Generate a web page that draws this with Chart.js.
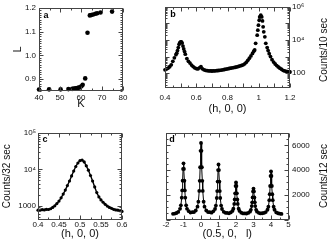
<!DOCTYPE html>
<html>
<head>
<meta charset="utf-8">
<script src="https://cdn.jsdelivr.net/npm/chart.js@4.4.1/dist/chart.umd.min.js"></script>
<style>
  body { margin: 0; background: #fff; }
  #wrap { position: relative; width: 332px; height: 241px; }
  canvas { position: absolute; left: 0; top: 0; }
</style>
</head>
<body>
<div id="wrap">
  <canvas id="chartA" width="332" height="241"></canvas>
  <canvas id="chartB" width="332" height="241"></canvas>
  <canvas id="chartC" width="332" height="241"></canvas>
  <canvas id="chartD" width="332" height="241"></canvas>
</div>
<script>
// panel a : L vs K
var aK = [40, 44.8, 50.3, 54, 55.8, 56.6, 57.4, 58.2, 58.9, 59.6, 60.2, 60.8, 62, 63.1, 64.2, 64.9, 65.8, 66.9, 67.7, 69.3, 74.8];
var aL = [0.856, 0.857, 0.857, 0.858, 0.859, 0.86, 0.861, 0.862, 0.864, 0.866, 0.87, 0.876, 0.903, 1.095, 1.168, 1.17, 1.172, 1.175, 1.177, 1.18, 1.184];
var aXTicks = [40, 50, 60, 70, 80];
var aYTicks = [0.9, 1, 1.1, 1.2];

// panel b : (h, 0, 0) scan, counts/10 sec
var bH = [0.40, 0.41, 0.42, 0.43, 0.44, 0.45, 0.46, 0.47, 0.475, 0.48, 0.485, 0.49, 0.495, 0.50, 0.505, 0.51, 0.515, 0.52, 0.525, 0.53,
  0.54, 0.55, 0.56, 0.57, 0.58, 0.59, 0.60, 0.61, 0.62, 0.63, 0.64, 0.65, 0.66, 0.67, 0.68, 0.69, 0.70,
  0.71, 0.72, 0.73, 0.74, 0.75, 0.76, 0.77, 0.78, 0.79, 0.80, 0.81, 0.82, 0.83, 0.84, 0.85, 0.86, 0.87, 0.88, 0.89, 0.90,
  0.91, 0.92, 0.93, 0.94, 0.95, 0.96, 0.968, 0.974, 0.98, 0.99, 0.994, 0.998, 1.003, 1.006, 1.013, 1.019, 1.024, 1.028, 1.032, 1.039,
  1.045, 1.054, 1.06, 1.067, 1.075, 1.085, 1.095, 1.105, 1.115, 1.125, 1.135, 1.145, 1.155, 1.165, 1.175, 1.185, 1.195, 1.2];
var bCounts = [160, 180, 205, 245, 320, 520, 850, 1300, 1600, 2300, 3500, 5500, 7000, 7600, 7800, 6500, 4300, 2900, 2000, 1400,
  760, 520, 410, 310, 250, 210, 190, 180, 210, 250, 185, 160, 150, 143, 139, 137, 136,
  137, 139, 142, 146, 150, 155, 160, 167, 175, 183, 192, 200, 210, 218, 228, 240, 255, 275, 295, 320,
  370, 450, 600, 800, 1100, 1550, 2100, 2500, 6300, 19500, 39000, 78000, 155000, 245000, 310000, 245000, 141000, 62000, 31000, 15500,
  6300, 3500, 2300, 1500, 1000, 650, 470, 360, 290, 240, 200, 175, 150, 138, 130, 124, 120, 118];
var bXTicks = [0.4, 0.6, 0.8, 1, 1.2];
var bXLabels = ['0.4', '0.6', '0.8', '1', '1.2'];
var bYTicks = [100, 10000, 1000000];
var bYLabels = ['100', '10\u2074', '10\u2076'];

// panel c : (h, 0, 0) scan, counts/32 sec
var cH = [0.400, 0.405, 0.410, 0.415, 0.420, 0.425, 0.430, 0.435, 0.440, 0.445, 0.450, 0.455, 0.460, 0.465, 0.470, 0.475, 0.480,
  0.485, 0.490, 0.495, 0.500, 0.505, 0.510, 0.515, 0.520, 0.525, 0.530, 0.535, 0.540, 0.545, 0.550, 0.555, 0.560, 0.565,
  0.570, 0.575, 0.580, 0.585, 0.590, 0.595, 0.600];
var cCounts = [760, 760, 780, 770, 800, 790, 830, 900, 1000, 1150, 1350, 1650, 2100, 2700, 3600, 4800, 6600,
  9000, 12000, 15000, 17500, 18000, 16000, 12500, 9500, 6800, 4800, 3300, 2300, 1750, 1450, 1250, 1100, 980,
  900, 850, 800, 770, 760, 730, 700];
var cXTicks = [0.4, 0.45, 0.5, 0.55, 0.6];
var cXLabels = ['0.4', '0.45', '0.5', '0.55', '0.6'];
var cYTicks = [1000, 10000, 100000];
var cYLabels = ['1000', '10\u2074', '10\u2075'];

// panel d : (0.5, 0, l) scan, counts/12 sec
var dL = [-1.6, -1.5, -1.4, -1.3, -1.2, -1.15, -1.1, -1.075, -1.05, -1.025, -1, -0.975, -0.95, -0.925, -0.9, -0.85, -0.8,
  -0.7, -0.6, -0.5, -0.4, -0.3, -0.2, -0.15, -0.1, -0.075, -0.05, -0.025, 0, 0.025, 0.05, 0.075, 0.1, 0.15, 0.2,
  0.3, 0.4, 0.5, 0.6, 0.7, 0.8, 0.85, 0.9, 0.925, 0.95, 0.975, 1, 1.025, 1.05, 1.075, 1.1, 1.15, 1.2,
  1.3, 1.4, 1.5, 1.6, 1.7, 1.8, 1.85, 1.9, 1.925, 1.95, 1.975, 2, 2.025, 2.05, 2.075, 2.1, 2.15, 2.2,
  2.3, 2.4, 2.5, 2.6, 2.7, 2.8, 2.85, 2.9, 2.925, 2.95, 2.975, 3, 3.025, 3.05, 3.075, 3.1, 3.15, 3.2,
  3.3, 3.4, 3.5, 3.6, 3.7, 3.8, 3.85, 3.9, 3.925, 3.95, 3.975, 4, 4.025, 4.05, 4.075, 4.1, 4.15, 4.2,
  4.3, 4.4, 4.5, 4.6];
var dCounts = [460, 480, 525, 610, 860, 1150, 1770, 2350, 3140, 4090, 4550, 4090, 3140, 2350, 1770, 1150, 860,
  670, 560, 590, 600, 730, 1040, 1440, 2310, 3130, 4230, 5560, 6200, 5560, 4230, 3130, 2310, 1440, 1040,
  730, 600, 590, 550, 660, 850, 1130, 1740, 2300, 3070, 4000, 4450, 4000, 3070, 2300, 1740, 1130, 850,
  625, 540, 530, 500, 570, 690, 870, 1260, 1620, 2120, 2710, 3000, 2710, 2120, 1620, 1260, 870, 690,
  550, 495, 490, 485, 530, 630, 780, 1090, 1390, 1790, 2270, 2500, 2270, 1790, 1390, 1090, 780, 630,
  540, 490, 505, 530, 600, 790, 1030, 1560, 2050, 2710, 3520, 3900, 3520, 2710, 2050, 1560, 1030, 790,
  575, 505, 470, 450];
var dXTicks = [-2, -1, 0, 1, 2, 3, 4, 5];
var dYTicks = [2000, 4000, 6000];

Chart.defaults.font.family = "'Liberation Sans', Arial, sans-serif";
Chart.defaults.color = '#111';

function toPoints(xs, ys) {
  return xs.map(function (x, i) { return { x: x, y: ys[i] }; });
}

// inward tick marks for the frame
function linTicks(min, max, major, minor) {
  var out = [];
  var n = Math.round((max - min) / minor);
  for (var i = 0; i <= n; i++) {
    var v = +(min + i * minor).toFixed(6);
    var r = v / major;
    out.push([v, Math.abs(r - Math.round(r)) < 1e-6 ? 4 : 2]);
  }
  return out;
}
function logTicks(min, max) {
  var out = [];
  for (var d = Math.floor(Math.log10(min)); d <= Math.ceil(Math.log10(max)); d++) {
    for (var m = 1; m <= 9; m++) {
      var v = m * Math.pow(10, d);
      if (v >= min && v <= max) out.push([v, m === 1 ? 4 : 2]);
    }
  }
  return out;
}

var panelDeco = {
  id: 'panelDeco',
  afterDraw: function (chart, args, o) {
    var ctx = chart.ctx, a = chart.chartArea;
    var sx = chart.scales.x, sy = chart.scales.y;
    var l = Math.round(a.left) + 0.5, r = Math.round(a.right) - 0.5;
    var t = Math.round(a.top) + 0.5, b = Math.round(a.bottom) - 0.5;
    ctx.save();
    ctx.strokeStyle = '#444';
    ctx.lineWidth = 1;
    ctx.strokeRect(l, t, r - l, b - t);
    ctx.beginPath();
    o.xTicks.forEach(function (tk) {
      var p = Math.round(sx.getPixelForValue(tk[0])) + 0.5;
      ctx.moveTo(p, b); ctx.lineTo(p, b - tk[1]);
      ctx.moveTo(p, t); ctx.lineTo(p, t + tk[1]);
    });
    o.yTicks.forEach(function (tk) {
      var p = Math.round(sy.getPixelForValue(tk[0])) + 0.5;
      ctx.moveTo(l, p); ctx.lineTo(l + tk[1], p);
      ctx.moveTo(r, p); ctx.lineTo(r - tk[1], p);
    });
    ctx.stroke();
    ctx.fillStyle = '#000';
    ctx.font = "bold 9px 'Liberation Sans', Arial, sans-serif";
    ctx.textAlign = 'center';
    ctx.textBaseline = 'middle';
    ctx.fillText(o.letter, o.letterPos[0], o.letterPos[1]);
    if (o.side) {
      ctx.translate(o.side.x, o.side.y);
      ctx.rotate(-Math.PI / 2);
      ctx.font = "10px 'Liberation Sans', Arial, sans-serif";
      ctx.fillStyle = '#111';
      ctx.fillText(o.side.text, 0, 0);
    }
    ctx.restore();
  }
};

function fixTicks(vals) {
  return function (s) { s.ticks = vals.map(function (v) { return { value: v }; }); };
}

function makePanel(id, cfg) {
  return new Chart(document.getElementById(id), {
    type: 'scatter',
    data: { datasets: [cfg.dataset] },
    options: {
      responsive: false,
      animation: false,
      devicePixelRatio: 1,
      layout: { padding: cfg.padding },
      plugins: { legend: { display: false }, tooltip: { enabled: false }, panelDeco: cfg.deco },
      scales: { x: cfg.x, y: cfg.y }
    },
    plugins: [panelDeco]
  });
}

function pointSet(data, radius, line) {
  return {
    data: data,
    pointRadius: radius,
    pointBackgroundColor: '#000',
    pointBorderWidth: 0,
    showLine: !!line,
    borderColor: '#000',
    borderWidth: line || 0,
    clip: false
  };
}

var tickFont = { size: 8 };
var noGrid = { display: false, drawTicks: false };

// a
makePanel('chartA', {
  dataset: pointSet(toPoints(aK, aL), 2.3, 0),
  padding: { left: 0, right: 209, top: 6, bottom: 130 },
  x: {
    type: 'linear', min: 40, max: 80, grid: noGrid, border: { display: false },
    afterBuildTicks: fixTicks(aXTicks), afterFit: function (s) { s.height = 20; },
    ticks: { font: tickFont, padding: 2, maxRotation: 0 },
    title: { display: true, text: 'K', font: { size: 11 }, padding: { top: 0, bottom: 0.4 } }
  },
  y: {
    type: 'linear', min: 0.85, max: 1.2, grid: noGrid, border: { display: false },
    afterBuildTicks: fixTicks(aYTicks), afterFit: function (s) { s.width = 39; },
    ticks: { font: tickFont, padding: 3 },
    title: { display: true, text: 'L', font: { size: 11 }, padding: { top: 11.4, bottom: 0 } }
  },
  deco: { xTicks: linTicks(40, 80, 10, 5), yTicks: linTicks(0.85, 1.2, 0.1, 0.01), letter: 'a', letterPos: [46, 16] }
});

// b
makePanel('chartB', {
  dataset: pointSet(toPoints(bH, bCounts), 1.9, 0),
  padding: { left: 165, right: 0, top: 6, bottom: 125.5 },
  x: {
    type: 'linear', min: 0.4, max: 1.2, grid: noGrid, border: { display: false },
    afterBuildTicks: fixTicks(bXTicks), afterFit: function (s) { s.height = 27; },
    ticks: { font: tickFont, padding: 4, maxRotation: 0, callback: function (v, i) { return bXLabels[i]; } },
    title: { display: true, text: '(h, 0, 0)', font: { size: 11 }, padding: { top: 0, bottom: 0.4 } }
  },
  y: {
    type: 'logarithmic', position: 'right', min: 12, max: 1000000, grid: noGrid, border: { display: false },
    afterBuildTicks: fixTicks(bYTicks), afterFit: function (s) { s.width = 42; },
    ticks: { font: tickFont, padding: 2, callback: function (v, i) { return bYLabels[i]; } }
  },
  deco: { xTicks: linTicks(0.4, 1.2, 0.1, 0.05), yTicks: logTicks(12, 1000000), letter: 'b', letterPos: [173, 15],
    side: { text: 'Counts/10 sec', x: 324, y: 50 } }
});

// c
makePanel('chartC', {
  dataset: pointSet(toPoints(cH, cCounts), 1.6, 1.4),
  padding: { left: 0, right: 210, top: 133, bottom: 0 },
  x: {
    type: 'linear', min: 0.4, max: 0.6, grid: noGrid, border: { display: false },
    afterBuildTicks: fixTicks(cXTicks), afterFit: function (s) { s.height = 21.5; },
    ticks: { font: tickFont, padding: 0, maxRotation: 0, callback: function (v, i) { return cXLabels[i]; } },
    title: { display: true, text: '(h, 0, 0)', font: { size: 11 }, padding: { top: 0, bottom: 0.9 } }
  },
  y: {
    type: 'logarithmic', min: 420, max: 100000, grid: noGrid, border: { display: false },
    afterBuildTicks: fixTicks(cYTicks), afterFit: function (s) { s.width = 38; },
    ticks: { font: tickFont, padding: 2, callback: function (v, i) { return cYLabels[i]; } },
    title: { display: true, text: 'Counts/32 sec', font: { size: 10 }, padding: { top: 1.5, bottom: 0 } }
  },
  deco: { xTicks: linTicks(0.4, 0.6, 0.05, 0.025), yTicks: logTicks(420, 100000), letter: 'c', letterPos: [45, 140] }
});

// d
makePanel('chartD', {
  dataset: pointSet(toPoints(dL, dCounts), 1.9, 1),
  padding: { left: 166, right: 0, top: 133, bottom: 0 },
  x: {
    type: 'linear', min: -2, max: 5, grid: noGrid, border: { display: false },
    afterBuildTicks: fixTicks(dXTicks), afterFit: function (s) { s.height = 21.5; },
    ticks: { font: tickFont, padding: 0.7, maxRotation: 0 },
    title: { display: true, text: '(0.5, 0,   l)', font: { size: 11 }, padding: { top: 0, bottom: 0.9 } }
  },
  y: {
    type: 'linear', position: 'right', min: 0, max: 7000, grid: noGrid, border: { display: false },
    afterBuildTicks: fixTicks(dYTicks), afterFit: function (s) { s.width = 43.5; },
    ticks: { font: tickFont, padding: 3.5, callback: function (v) { return String(v); } }
  },
  deco: { xTicks: linTicks(-2, 5, 1, 0.5), yTicks: linTicks(0, 7000, 2000, 500), letter: 'd', letterPos: [172, 140],
    side: { text: 'Counts/12 sec', x: 324, y: 176 } }
});
</script>
</body>
</html>
